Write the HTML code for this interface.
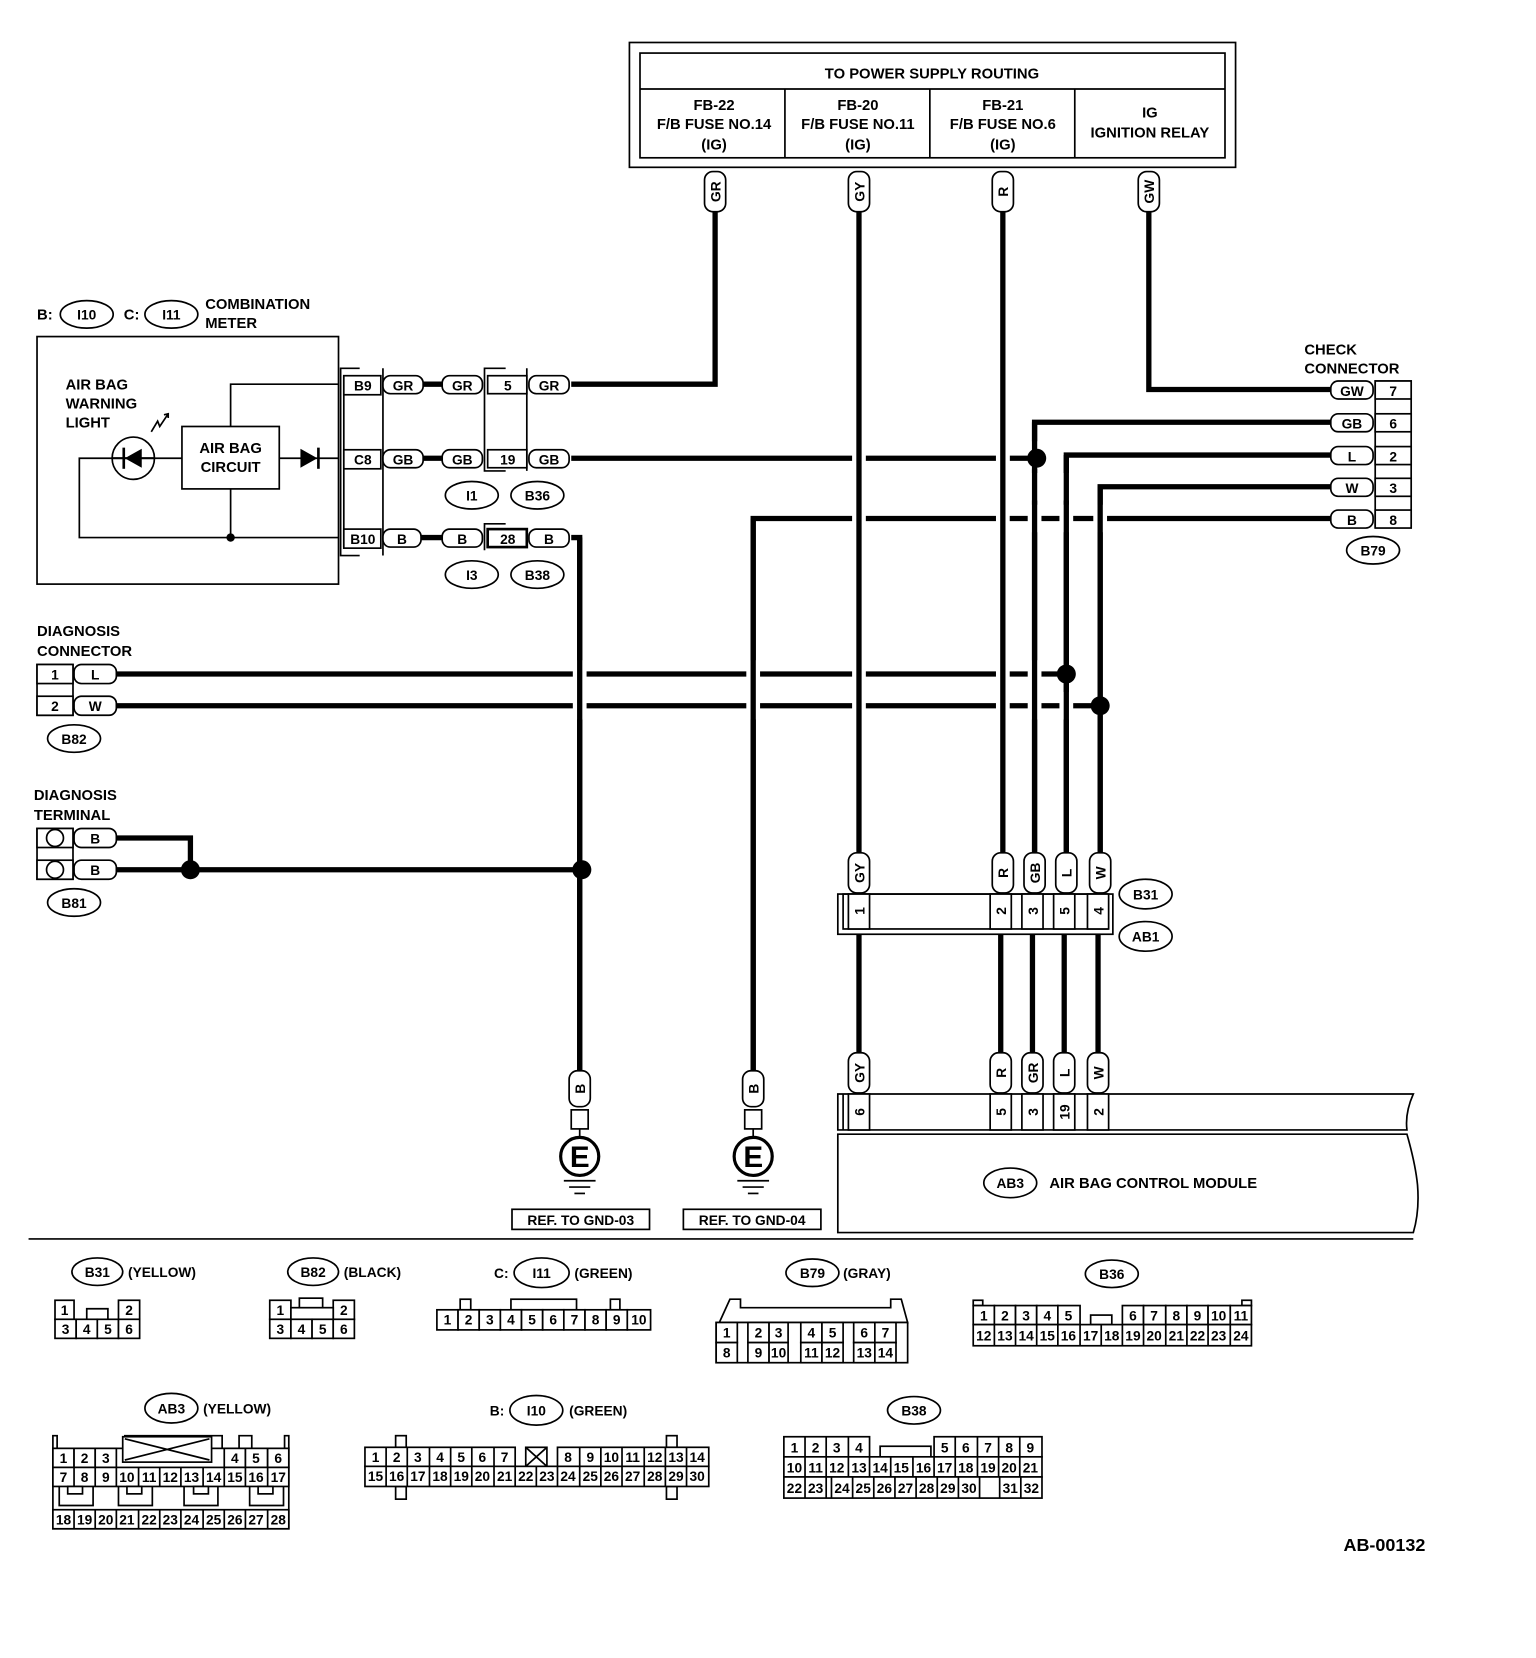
<!DOCTYPE html>
<html><head><meta charset="utf-8"><style>
html,body{margin:0;padding:0;background:#fff}
svg{display:block}
text{font-family:"Liberation Sans",sans-serif;font-weight:bold;fill:#000}
.t{font-size:14px}
.s{font-size:13px}
.c{font-size:13px;font-weight:normal}
.th{fill:none;stroke:#000;stroke-width:5}
.tn{fill:none;stroke:#000;stroke-width:1.6}
.bx{fill:#fff;stroke:#000;stroke-width:1.6}
.wh{fill:none;stroke:#fff;stroke-width:13}
</style></head><body>
<svg width="1536" height="1658" viewBox="0 0 1452 1567" xmlns="http://www.w3.org/2000/svg">
<!-- TOP BOX -->
<rect x="595" y="40" width="573" height="118" class="tn" stroke-width="2.5"/>
<rect x="605" y="50" width="553" height="99" class="tn" stroke-width="2.5"/>
<line x1="605" y1="84" x2="1158" y2="84" class="tn" stroke-width="2"/>
<line x1="742" y1="84" x2="742" y2="149" class="tn"/>
<line x1="879" y1="84" x2="879" y2="149" class="tn"/>
<line x1="1016" y1="84" x2="1016" y2="149" class="tn"/>
<text x="881" y="74" class="t" text-anchor="middle">TO POWER SUPPLY ROUTING</text>
<g class="t" text-anchor="middle">
<text x="675" y="104">FB-22</text><text x="675" y="122">F/B FUSE NO.14</text><text x="675" y="141">(IG)</text>
<text x="811" y="104">FB-20</text><text x="811" y="122">F/B FUSE NO.11</text><text x="811" y="141">(IG)</text>
<text x="948" y="104">FB-21</text><text x="948" y="122">F/B FUSE NO.6</text><text x="948" y="141">(IG)</text>
<text x="1087" y="111">IG</text><text x="1087" y="130">IGNITION RELAY</text>
</g>

<!-- HORIZONTAL WIRES -->
<polyline points="540,363 676,363 676,198" class="th"/>
<polyline points="1258,368 1086,368 1086,198" class="th"/>
<line x1="540" y1="433" x2="980" y2="433" class="th"/>
<polyline points="1258,399 978,399 978,808" class="th"/>
<polyline points="1258,430 1008,430 1008,808" class="th"/>
<polyline points="1258,460 1040,460 1040,808" class="th"/>
<polyline points="1258,490 712,490 712,1012" class="th"/>
<line x1="110" y1="637" x2="1008" y2="637" class="th"/>
<line x1="110" y1="667" x2="1040" y2="667" class="th"/>
<polyline points="540,508 548,508 548,1012" class="th"/>
<polyline points="110,792 180,792 180,822" class="th"/>
<line x1="110" y1="822" x2="548" y2="822" class="th"/>
<!-- crossings: white gaps under verticals -->
<g class="wh" stroke-width="12">
<line x1="812" y1="420" x2="812" y2="446"/><line x1="948" y1="420" x2="948" y2="446"/>
<line x1="812" y1="477" x2="812" y2="503"/><line x1="948" y1="477" x2="948" y2="503"/><line x1="978" y1="477" x2="978" y2="503"/><line x1="1008" y1="477" x2="1008" y2="503"/><line x1="1040" y1="477" x2="1040" y2="503"/>
<line x1="948" y1="386" x2="948" y2="412"/>
<line x1="948" y1="417" x2="948" y2="443"/>
<line x1="978" y1="417" x2="978" y2="443"/>
<line x1="948" y1="447" x2="948" y2="473"/><line x1="978" y1="447" x2="978" y2="473"/><line x1="1008" y1="447" x2="1008" y2="473"/>
<line x1="548" y1="624" x2="548" y2="680"/><line x1="712" y1="624" x2="712" y2="680"/><line x1="812" y1="624" x2="812" y2="680"/><line x1="948" y1="624" x2="948" y2="680"/><line x1="978" y1="624" x2="978" y2="680"/><line x1="1008" y1="654" x2="1008" y2="680"/>
<line x1="812" y1="356" x2="812" y2="376"/>
</g>
<!-- verticals -->
<line x1="812" y1="198" x2="812" y2="808" class="th"/>
<line x1="948" y1="198" x2="948" y2="808" class="th"/>
<line x1="978" y1="399" x2="978" y2="808" class="th"/>
<line x1="1008" y1="430" x2="1008" y2="808" class="th"/>
<line x1="1040" y1="460" x2="1040" y2="808" class="th"/>
<line x1="712" y1="490" x2="712" y2="1012" class="th"/>
<line x1="548" y1="508" x2="548" y2="1012" class="th"/>
<g fill="#000"><circle cx="980" cy="433" r="9"/><circle cx="1008" cy="637" r="9"/><circle cx="1040" cy="667" r="9"/><circle cx="180" cy="822" r="9"/><circle cx="550" cy="822" r="9"/></g>

<!-- top vertical pills -->
<g class="bx"><rect x="666" y="162" width="20" height="38" rx="8"/><rect x="802" y="162" width="20" height="38" rx="8"/><rect x="938" y="162" width="20" height="38" rx="8"/><rect x="1076" y="162" width="20" height="38" rx="8"/></g>
<g class="s" text-anchor="middle">
<text transform="translate(681,181) rotate(-90)">GR</text><text transform="translate(817,181) rotate(-90)">GY</text><text transform="translate(953,181) rotate(-90)">R</text><text transform="translate(1091,181) rotate(-90)">GW</text>
</g>

<!-- CHECK CONNECTOR -->
<text x="1233" y="335" class="t">CHECK</text><text x="1233" y="353" class="t">CONNECTOR</text>
<rect x="1300" y="360" width="34" height="138" class="tn"/>
<g class="bx">
<rect x="1258" y="360" width="40" height="17" rx="7"/><rect x="1258" y="391" width="40" height="17" rx="7"/><rect x="1258" y="422" width="40" height="17" rx="7"/><rect x="1258" y="452" width="40" height="17" rx="7"/><rect x="1258" y="482" width="40" height="17" rx="7"/>
<rect x="1300" y="360" width="34" height="17"/><rect x="1300" y="391" width="34" height="17"/><rect x="1300" y="422" width="34" height="17"/><rect x="1300" y="452" width="34" height="17"/><rect x="1300" y="482" width="34" height="17"/>
</g>
<g class="s" text-anchor="middle">
<text x="1278" y="374">GW</text><text x="1278" y="405">GB</text><text x="1278" y="436">L</text><text x="1278" y="466">W</text><text x="1278" y="496">B</text>
<text x="1317" y="374">7</text><text x="1317" y="405">6</text><text x="1317" y="436">2</text><text x="1317" y="466">3</text><text x="1317" y="496">8</text>
</g>
<ellipse cx="1298" cy="520" rx="25" ry="13" class="bx" stroke-width="2"/><text x="1298" y="525" class="s" text-anchor="middle">B79</text>

<!-- COMBINATION METER -->
<text x="35" y="302" class="t">B:</text>
<ellipse cx="82" cy="297" rx="25" ry="13" class="bx" stroke-width="2"/><text x="82" y="302" class="s" text-anchor="middle">I10</text>
<text x="117" y="302" class="t">C:</text>
<ellipse cx="162" cy="297" rx="25" ry="13" class="bx" stroke-width="2"/><text x="162" y="302" class="s" text-anchor="middle">I11</text>
<text x="194" y="292" class="t">COMBINATION</text><text x="194" y="310" class="t">METER</text>
<rect x="35" y="318" width="285" height="234" class="tn" stroke-width="2"/>
<text x="62" y="368" class="t">AIR BAG</text><text x="62" y="386" class="t">WARNING</text><text x="62" y="404" class="t">LIGHT</text>
<path d="M143,408 l6,-10 l2,5 l8,-12 M155,392 l4,-1 l0,4" class="tn" stroke-width="2"/>
<rect x="172" y="403" width="92" height="59" class="tn" stroke-width="2"/>
<text x="218" y="428" class="t" text-anchor="middle">AIR BAG</text><text x="218" y="446" class="t" text-anchor="middle">CIRCUIT</text>
<polyline points="218,403 218,363 320,363" class="tn" stroke-width="2"/>
<line x1="264" y1="433" x2="320" y2="433" class="tn" stroke-width="2"/>
<path d="M284,424 L300,433 L284,442 Z" fill="#000"/><line x1="301" y1="423" x2="301" y2="443" stroke="#000" stroke-width="2.5"/>
<polyline points="172,433 146,433" class="tn" stroke-width="2"/>
<polyline points="106,433 75,433 75,508 320,508" class="tn" stroke-width="2"/>
<line x1="218" y1="462" x2="218" y2="508" class="tn" stroke-width="2"/>
<circle cx="218" cy="508" r="4" fill="#000"/>
<circle cx="126" cy="433" r="20" class="bx" stroke-width="2"/>
<path d="M134,424 L118,433 L134,442 Z" fill="#000"/><line x1="117" y1="423" x2="117" y2="443" stroke="#000" stroke-width="2.5"/><line x1="106" y1="433" x2="146" y2="433" stroke="#000" stroke-width="2"/>
<!-- meter connectors -->
<polyline points="340,348 322,348 322,525 340,525" class="tn" stroke-width="2"/>
<line x1="362" y1="348" x2="362" y2="525" class="tn"/>
<line x1="325" y1="355" x2="325" y2="517" class="tn"/>
<g class="bx"><rect x="325" y="355" width="35" height="18"/><rect x="325" y="425" width="35" height="18"/><rect x="325" y="500" width="35" height="18"/></g>
<polyline points="478,348 458,348 458,445 478,445" class="tn" stroke-width="2"/>
<line x1="498" y1="348" x2="498" y2="445" class="tn"/>
<polyline points="478,495 458,495 458,520" class="tn" stroke-width="2"/>
<g class="th" stroke-width="6"><line x1="398" y1="363" x2="420" y2="363"/><line x1="398" y1="433" x2="420" y2="433"/><line x1="398" y1="508" x2="420" y2="508"/></g>
<g class="bx">
<rect x="362" y="355" width="38" height="17" rx="7"/><rect x="418" y="355" width="38" height="17" rx="7"/><rect x="461" y="355" width="37" height="17"/><rect x="500" y="355" width="38" height="17" rx="7"/>
<rect x="362" y="425" width="38" height="17" rx="7"/><rect x="418" y="425" width="38" height="17" rx="7"/><rect x="461" y="425" width="37" height="17"/><rect x="500" y="425" width="38" height="17" rx="7"/>
<rect x="362" y="500" width="36" height="17" rx="7"/><rect x="418" y="500" width="38" height="17" rx="7"/><rect x="461" y="500" width="37" height="17" stroke-width="2.5"/><rect x="500" y="500" width="38" height="17" rx="7"/>
</g>
<g class="s" text-anchor="middle">
<text x="343" y="369">B9</text><text x="381" y="369">GR</text><text x="437" y="369">GR</text><text x="480" y="369">5</text><text x="519" y="369">GR</text>
<text x="343" y="439">C8</text><text x="381" y="439">GB</text><text x="437" y="439">GB</text><text x="480" y="439">19</text><text x="519" y="439">GB</text>
<text x="343" y="514">B10</text><text x="380" y="514">B</text><text x="437" y="514">B</text><text x="480" y="514">28</text><text x="519" y="514">B</text>
</g>
<g class="bx" stroke-width="2"><ellipse cx="446" cy="468" rx="25" ry="13"/><ellipse cx="508" cy="468" rx="25" ry="13"/><ellipse cx="446" cy="543" rx="25" ry="13"/><ellipse cx="508" cy="543" rx="25" ry="13"/></g>
<g class="s" text-anchor="middle"><text x="446" y="473">I1</text><text x="508" y="473">B36</text><text x="446" y="548">I3</text><text x="508" y="548">B38</text></g>

<!-- DIAGNOSIS CONNECTOR -->
<text x="35" y="601" class="t">DIAGNOSIS</text><text x="35" y="620" class="t">CONNECTOR</text>
<rect x="35" y="628" width="34" height="48" class="tn"/>
<g class="bx"><rect x="35" y="628" width="34" height="18"/><rect x="35" y="658" width="34" height="18"/><rect x="70" y="628" width="40" height="18" rx="7"/><rect x="70" y="658" width="40" height="18" rx="7"/></g>
<g class="s" text-anchor="middle"><text x="52" y="642">1</text><text x="52" y="672">2</text><text x="90" y="642">L</text><text x="90" y="672">W</text></g>
<ellipse cx="70" cy="698" rx="25" ry="13" class="bx" stroke-width="2"/><text x="70" y="703" class="s" text-anchor="middle">B82</text>
<!-- DIAGNOSIS TERMINAL -->
<text x="32" y="756" class="t">DIAGNOSIS</text><text x="32" y="775" class="t">TERMINAL</text>
<rect x="35" y="783" width="34" height="48" class="tn"/>
<g class="bx"><rect x="35" y="783" width="34" height="18"/><rect x="35" y="813" width="34" height="18"/><rect x="70" y="783" width="40" height="18" rx="7"/><rect x="70" y="813" width="40" height="18" rx="7"/>
<circle cx="52" cy="792" r="8"/><circle cx="52" cy="822" r="8"/></g>
<g class="s" text-anchor="middle"><text x="90" y="797">B</text><text x="90" y="827">B</text></g>
<ellipse cx="70" cy="853" rx="25" ry="13" class="bx" stroke-width="2"/><text x="70" y="858" class="s" text-anchor="middle">B81</text>

<!-- GROUNDS -->
<g class="bx">
<rect x="538" y="1012" width="20" height="34" rx="8"/><rect x="540" y="1049" width="16" height="18"/><circle cx="548" cy="1093" r="18" stroke-width="3"/>
<rect x="702" y="1012" width="20" height="34" rx="8"/><rect x="704" y="1049" width="16" height="18"/><circle cx="712" cy="1093" r="18" stroke-width="3"/>
</g>
<line x1="548" y1="1067" x2="548" y2="1075" class="tn" stroke-width="3"/><line x1="712" y1="1067" x2="712" y2="1075" class="tn" stroke-width="3"/>
<text transform="translate(553,1029) rotate(-90)" class="s" text-anchor="middle">B</text>
<text transform="translate(717,1029) rotate(-90)" class="s" text-anchor="middle">B</text>
<text x="548" y="1103" font-size="28" text-anchor="middle">E</text>
<text x="712" y="1103" font-size="28" text-anchor="middle">E</text>
<g class="tn" stroke-width="2"><line x1="533" y1="1116" x2="563" y2="1116"/><line x1="538" y1="1122" x2="558" y2="1122"/><line x1="543" y1="1128" x2="553" y2="1128"/>
<line x1="697" y1="1116" x2="727" y2="1116"/><line x1="702" y1="1122" x2="722" y2="1122"/><line x1="707" y1="1128" x2="717" y2="1128"/></g>
<rect x="484" y="1143" width="130" height="19" class="tn" stroke-width="2"/><rect x="646" y="1143" width="130" height="19" class="tn" stroke-width="2"/>
<text x="549" y="1158" class="s" text-anchor="middle">REF. TO GND-03</text><text x="711" y="1158" class="s" text-anchor="middle">REF. TO GND-04</text>

<!-- B31/AB1 -->
<rect x="792" y="845" width="260" height="38" class="tn" stroke-width="2"/>
<rect x="797" y="845" width="250" height="33" class="tn"/>
<g class="bx">
<rect x="802" y="845" width="20" height="33"/><rect x="936" y="845" width="20" height="33"/><rect x="966" y="845" width="20" height="33"/><rect x="996" y="845" width="20" height="33"/><rect x="1028" y="845" width="20" height="33"/>
<rect x="802" y="806" width="20" height="38" rx="8"/><rect x="938" y="806" width="20" height="38" rx="8"/><rect x="968" y="806" width="20" height="38" rx="8"/><rect x="998" y="806" width="20" height="38" rx="8"/><rect x="1030" y="806" width="20" height="38" rx="8"/>
</g>
<g class="s" text-anchor="middle">
<text transform="translate(817,825) rotate(-90)">GY</text><text transform="translate(953,825) rotate(-90)">R</text><text transform="translate(983,825) rotate(-90)">GB</text><text transform="translate(1013,825) rotate(-90)">L</text><text transform="translate(1045,825) rotate(-90)">W</text>
<text transform="translate(817,861) rotate(-90)">1</text><text transform="translate(951,861) rotate(-90)">2</text><text transform="translate(981,861) rotate(-90)">3</text><text transform="translate(1011,861) rotate(-90)">5</text><text transform="translate(1043,861) rotate(-90)">4</text>
</g>
<g class="bx" stroke-width="2"><ellipse cx="1083" cy="845" rx="25" ry="14"/><ellipse cx="1083" cy="885" rx="25" ry="14"/></g>
<text x="1083" y="850" class="s" text-anchor="middle">B31</text><text x="1083" y="890" class="s" text-anchor="middle">AB1</text>
<g class="th"><line x1="812" y1="883" x2="812" y2="997"/><line x1="946" y1="883" x2="946" y2="997"/><line x1="976" y1="883" x2="976" y2="997"/><line x1="1006" y1="883" x2="1006" y2="997"/><line x1="1038" y1="883" x2="1038" y2="997"/></g>

<!-- AB3 MODULE -->
<path d="M792,1034 H1336 Q1328,1052 1330,1068 H792 Z" class="tn" stroke-width="2"/>
<path d="M792,1072 H1330 Q1338,1100 1340,1120 Q1342,1145 1336,1165 H792 Z" class="tn" stroke-width="2"/>
<line x1="797" y1="1034" x2="797" y2="1068" class="tn"/>
<g class="bx">
<rect x="802" y="1034" width="20" height="34"/><rect x="936" y="1034" width="20" height="34"/><rect x="966" y="1034" width="20" height="34"/><rect x="996" y="1034" width="20" height="34"/><rect x="1028" y="1034" width="20" height="34"/>
<rect x="802" y="995" width="20" height="38" rx="8"/><rect x="936" y="995" width="20" height="38" rx="8"/><rect x="966" y="995" width="20" height="38" rx="8"/><rect x="996" y="995" width="20" height="38" rx="8"/><rect x="1028" y="995" width="20" height="38" rx="8"/>
</g>
<g class="s" text-anchor="middle">
<text transform="translate(817,1014) rotate(-90)">GY</text><text transform="translate(951,1014) rotate(-90)">R</text><text transform="translate(981,1014) rotate(-90)">GR</text><text transform="translate(1011,1014) rotate(-90)">L</text><text transform="translate(1043,1014) rotate(-90)">W</text>
<text transform="translate(817,1051) rotate(-90)">6</text><text transform="translate(951,1051) rotate(-90)">5</text><text transform="translate(981,1051) rotate(-90)">3</text><text transform="translate(1011,1051) rotate(-90)">19</text><text transform="translate(1043,1051) rotate(-90)">2</text>
</g>
<ellipse cx="955" cy="1118" rx="25" ry="14" class="bx" stroke-width="2"/><text x="955" y="1123" class="s" text-anchor="middle">AB3</text>
<text x="992" y="1123" class="t">AIR BAG CONTROL MODULE</text>
<line x1="27" y1="1171" x2="1336" y2="1171" class="tn" stroke-width="2.5"/>

<!-- BOTTOM CONNECTOR VIEWS -->
<g class="bx" stroke-width="2">
<ellipse cx="92" cy="1202" rx="24" ry="13"/><ellipse cx="296" cy="1202" rx="24" ry="13"/><ellipse cx="512" cy="1203" rx="26" ry="14"/><ellipse cx="768" cy="1203" rx="25" ry="13"/><ellipse cx="1051" cy="1204" rx="25" ry="13"/>
<ellipse cx="162" cy="1331" rx="25" ry="14"/><ellipse cx="507" cy="1333" rx="25" ry="14"/><ellipse cx="864" cy="1333" rx="25" ry="13"/>
</g>
<g class="s">
<text x="92" y="1207" text-anchor="middle">B31</text><text x="121" y="1207">(YELLOW)</text>
<text x="296" y="1207" text-anchor="middle">B82</text><text x="325" y="1207">(BLACK)</text>
<text x="467" y="1208">C:</text><text x="512" y="1208" text-anchor="middle">I11</text><text x="543" y="1208">(GREEN)</text>
<text x="768" y="1208" text-anchor="middle">B79</text><text x="797" y="1208">(GRAY)</text>
<text x="1051" y="1209" text-anchor="middle">B36</text>
<text x="162" y="1336" text-anchor="middle">AB3</text><text x="192" y="1336">(YELLOW)</text>
<text x="463" y="1338">B:</text><text x="507" y="1338" text-anchor="middle">I10</text><text x="538" y="1338">(GREEN)</text>
<text x="864" y="1338" text-anchor="middle">B38</text>
</g>

<g class="bx" stroke-width="1.3">
<!-- B31 -->
<rect x="52" y="1229" width="18" height="18"/><rect x="112" y="1229" width="20" height="18"/>
<path d="M82,1247 V1237 H102 V1247" fill="none"/>
<rect x="52" y="1247" width="20" height="18"/><rect x="72" y="1247" width="20" height="18"/><rect x="92" y="1247" width="20" height="18"/><rect x="112" y="1247" width="20" height="18"/>
<!-- B82 -->
<rect x="255" y="1229" width="20" height="18"/><rect x="315" y="1229" width="20" height="18"/><rect x="275" y="1236" width="40" height="11"/><rect x="283" y="1227" width="22" height="9"/>
<rect x="255" y="1247" width="20" height="18"/><rect x="275" y="1247" width="20" height="18"/><rect x="295" y="1247" width="20" height="18"/><rect x="315" y="1247" width="20" height="18"/>
<!-- I11 -->
<rect x="435" y="1228" width="10" height="10"/><rect x="483" y="1228" width="62" height="10"/><rect x="577" y="1228" width="9" height="10"/>
<rect x="413" y="1238" width="20" height="19"/><rect x="433" y="1238" width="20" height="19"/><rect x="453" y="1238" width="20" height="19"/><rect x="473" y="1238" width="20" height="19"/><rect x="493" y="1238" width="20" height="19"/><rect x="513" y="1238" width="20" height="19"/><rect x="533" y="1238" width="20" height="19"/><rect x="553" y="1238" width="20" height="19"/><rect x="573" y="1238" width="20" height="19"/><rect x="593" y="1238" width="22" height="19"/>
<!-- B79 -->
<path d="M680,1250 L690,1228 H700 V1236 H842 V1228 H852 L858,1250 Z"/>
<rect x="677" y="1250" width="181" height="38"/>
<rect x="677" y="1250" width="20" height="19"/><rect x="707" y="1250" width="20" height="19"/><rect x="727" y="1250" width="18" height="19"/><rect x="757" y="1250" width="20" height="19"/><rect x="777" y="1250" width="20" height="19"/><rect x="807" y="1250" width="20" height="19"/><rect x="827" y="1250" width="20" height="19"/>
<rect x="677" y="1269" width="20" height="19"/><rect x="707" y="1269" width="20" height="19"/><rect x="727" y="1269" width="18" height="19"/><rect x="757" y="1269" width="20" height="19"/><rect x="777" y="1269" width="20" height="19"/><rect x="807" y="1269" width="20" height="19"/><rect x="827" y="1269" width="20" height="19"/>
<!-- B36 -->
<rect x="920" y="1229" width="9" height="5"/><rect x="1174" y="1229" width="9" height="5"/>
<rect x="920" y="1234" width="20" height="18"/><rect x="940" y="1234" width="20" height="18"/><rect x="960" y="1234" width="20" height="18"/><rect x="980" y="1234" width="20" height="18"/><rect x="1000" y="1234" width="21" height="18"/>
<rect x="1031" y="1243" width="20" height="9"/>
<rect x="1061" y="1234" width="20" height="18"/><rect x="1081" y="1234" width="21" height="18"/><rect x="1102" y="1234" width="20" height="18"/><rect x="1122" y="1234" width="20" height="18"/><rect x="1142" y="1234" width="21" height="18"/><rect x="1163" y="1234" width="20" height="18"/>
<rect x="920" y="1252" width="263" height="20"/>
</g>
<g class="tn" stroke-width="1.3">
<line x1="940" y1="1252" x2="940" y2="1272"/><line x1="960" y1="1252" x2="960" y2="1272"/><line x1="980" y1="1252" x2="980" y2="1272"/><line x1="1000" y1="1252" x2="1000" y2="1272"/><line x1="1021" y1="1252" x2="1021" y2="1272"/><line x1="1041" y1="1252" x2="1041" y2="1272"/><line x1="1061" y1="1252" x2="1061" y2="1272"/><line x1="1081" y1="1252" x2="1081" y2="1272"/><line x1="1102" y1="1252" x2="1102" y2="1272"/><line x1="1122" y1="1252" x2="1122" y2="1272"/><line x1="1142" y1="1252" x2="1142" y2="1272"/><line x1="1163" y1="1252" x2="1163" y2="1272"/>
</g>
<g class="c" text-anchor="middle">
<text x="61" y="1243">1</text><text x="122" y="1243">2</text><text x="62" y="1261">3</text><text x="82" y="1261">4</text><text x="102" y="1261">5</text><text x="122" y="1261">6</text>
<text x="265" y="1243">1</text><text x="325" y="1243">2</text><text x="265" y="1261">3</text><text x="285" y="1261">4</text><text x="305" y="1261">5</text><text x="325" y="1261">6</text>
<text x="423" y="1252">1</text><text x="443" y="1252">2</text><text x="463" y="1252">3</text><text x="483" y="1252">4</text><text x="503" y="1252">5</text><text x="523" y="1252">6</text><text x="543" y="1252">7</text><text x="563" y="1252">8</text><text x="583" y="1252">9</text><text x="604" y="1252">10</text>
<text x="687" y="1264">1</text><text x="717" y="1264">2</text><text x="736" y="1264">3</text><text x="767" y="1264">4</text><text x="787" y="1264">5</text><text x="817" y="1264">6</text><text x="837" y="1264">7</text>
<text x="687" y="1283">8</text><text x="717" y="1283">9</text><text x="736" y="1283">10</text><text x="767" y="1283">11</text><text x="787" y="1283">12</text><text x="817" y="1283">13</text><text x="837" y="1283">14</text>
<text x="930" y="1248">1</text><text x="950" y="1248">2</text><text x="970" y="1248">3</text><text x="990" y="1248">4</text><text x="1010" y="1248">5</text><text x="1071" y="1248">6</text><text x="1091" y="1248">7</text><text x="1112" y="1248">8</text><text x="1132" y="1248">9</text><text x="1152" y="1248">10</text><text x="1173" y="1248">11</text>
<text x="930" y="1267">12</text><text x="950" y="1267">13</text><text x="970" y="1267">14</text><text x="990" y="1267">15</text><text x="1010" y="1267">16</text><text x="1031" y="1267">17</text><text x="1051" y="1267">18</text><text x="1071" y="1267">19</text><text x="1091" y="1267">20</text><text x="1112" y="1267">21</text><text x="1132" y="1267">22</text><text x="1152" y="1267">23</text><text x="1173" y="1267">24</text>
</g>

<!-- AB3 view -->
<g class="bx" stroke-width="1.3">
<path d="M50,1369 V1357 H54 V1369 M118,1369 V1357 H210 V1369 M226,1369 V1357 H238 V1369 M269,1369 V1357 H273 V1369" fill="none"/>
<rect x="50" y="1369" width="223" height="76" fill="none"/>
<rect x="50" y="1369" width="20" height="18"/><rect x="70" y="1369" width="20" height="18"/><rect x="90" y="1369" width="20" height="18"/>
<rect x="116" y="1358" width="84" height="24"/>
<rect x="212" y="1369" width="20" height="18"/><rect x="232" y="1369" width="21" height="18"/><rect x="253" y="1369" width="20" height="18"/>
<rect x="50" y="1387" width="223" height="18"/>
<rect x="50" y="1427" width="223" height="18"/>
<path d="M56,1405 V1423 H88 V1405 M112,1405 V1423 H144 V1405 M174,1405 V1423 H206 V1405 M236,1405 V1423 H268 V1405" fill="none"/>
<rect x="64" y="1405" width="14" height="7"/><rect x="120" y="1405" width="14" height="7"/><rect x="183" y="1405" width="14" height="7"/><rect x="244" y="1405" width="14" height="7"/>
</g>
<path d="M118,1360 L198,1380 M118,1380 L198,1360" class="tn" stroke-width="1.3"/>
<g class="tn" stroke-width="1.3">
<line x1="70" y1="1387" x2="70" y2="1405"/><line x1="90" y1="1387" x2="90" y2="1405"/><line x1="110" y1="1387" x2="110" y2="1405"/><line x1="131" y1="1387" x2="131" y2="1405"/><line x1="151" y1="1387" x2="151" y2="1405"/><line x1="171" y1="1387" x2="171" y2="1405"/><line x1="192" y1="1387" x2="192" y2="1405"/><line x1="212" y1="1387" x2="212" y2="1405"/><line x1="232" y1="1387" x2="232" y2="1405"/><line x1="253" y1="1387" x2="253" y2="1405"/>
<line x1="70" y1="1427" x2="70" y2="1445"/><line x1="90" y1="1427" x2="90" y2="1445"/><line x1="110" y1="1427" x2="110" y2="1445"/><line x1="131" y1="1427" x2="131" y2="1445"/><line x1="151" y1="1427" x2="151" y2="1445"/><line x1="171" y1="1427" x2="171" y2="1445"/><line x1="192" y1="1427" x2="192" y2="1445"/><line x1="212" y1="1427" x2="212" y2="1445"/><line x1="232" y1="1427" x2="232" y2="1445"/><line x1="253" y1="1427" x2="253" y2="1445"/>
</g>
<g class="c" text-anchor="middle">
<text x="60" y="1383">1</text><text x="80" y="1383">2</text><text x="100" y="1383">3</text><text x="222" y="1383">4</text><text x="242" y="1383">5</text><text x="263" y="1383">6</text>
<text x="60" y="1401">7</text><text x="80" y="1401">8</text><text x="100" y="1401">9</text><text x="120" y="1401">10</text><text x="141" y="1401">11</text><text x="161" y="1401">12</text><text x="181" y="1401">13</text><text x="202" y="1401">14</text><text x="222" y="1401">15</text><text x="242" y="1401">16</text><text x="263" y="1401">17</text>
<text x="60" y="1441">18</text><text x="80" y="1441">19</text><text x="100" y="1441">20</text><text x="120" y="1441">21</text><text x="141" y="1441">22</text><text x="161" y="1441">23</text><text x="181" y="1441">24</text><text x="202" y="1441">25</text><text x="222" y="1441">26</text><text x="242" y="1441">27</text><text x="263" y="1441">28</text>
</g>

<!-- I10 view -->
<g class="bx" stroke-width="1.3">
<rect x="374" y="1357" width="10" height="11"/><rect x="374" y="1405" width="10" height="12"/><rect x="630" y="1357" width="10" height="11"/><rect x="630" y="1405" width="10" height="12"/>
<rect x="345" y="1368" width="142" height="18"/>
<rect x="497" y="1368" width="20" height="18"/>
<rect x="527" y="1368" width="143" height="18"/>
<rect x="345" y="1386" width="325" height="19"/>
</g>
<path d="M497,1368 L517,1386 M517,1368 L497,1386" class="tn" stroke-width="1.2"/>
<g class="tn" stroke-width="1.3">
<line x1="365" y1="1368" x2="365" y2="1405"/><line x1="385" y1="1368" x2="385" y2="1405"/><line x1="406" y1="1368" x2="406" y2="1405"/><line x1="426" y1="1368" x2="426" y2="1405"/><line x1="446" y1="1368" x2="446" y2="1405"/><line x1="467" y1="1368" x2="467" y2="1405"/><line x1="487" y1="1386" x2="487" y2="1405"/><line x1="507" y1="1386" x2="507" y2="1405"/><line x1="527" y1="1386" x2="527" y2="1405"/><line x1="548" y1="1368" x2="548" y2="1405"/><line x1="568" y1="1368" x2="568" y2="1405"/><line x1="588" y1="1368" x2="588" y2="1405"/><line x1="609" y1="1368" x2="609" y2="1405"/><line x1="629" y1="1368" x2="629" y2="1405"/><line x1="649" y1="1368" x2="649" y2="1405"/>
</g>
<g class="c" text-anchor="middle">
<text x="355" y="1382">1</text><text x="375" y="1382">2</text><text x="395" y="1382">3</text><text x="416" y="1382">4</text><text x="436" y="1382">5</text><text x="456" y="1382">6</text><text x="477" y="1382">7</text><text x="537" y="1382">8</text><text x="558" y="1382">9</text><text x="578" y="1382">10</text><text x="598" y="1382">11</text><text x="619" y="1382">12</text><text x="639" y="1382">13</text><text x="659" y="1382">14</text>
<text x="355" y="1400">15</text><text x="375" y="1400">16</text><text x="395" y="1400">17</text><text x="416" y="1400">18</text><text x="436" y="1400">19</text><text x="456" y="1400">20</text><text x="477" y="1400">21</text><text x="497" y="1400">22</text><text x="517" y="1400">23</text><text x="537" y="1400">24</text><text x="558" y="1400">25</text><text x="578" y="1400">26</text><text x="598" y="1400">27</text><text x="619" y="1400">28</text><text x="639" y="1400">29</text><text x="659" y="1400">30</text>
</g>

<!-- B38 view -->
<g class="bx" stroke-width="1.3">
<rect x="741" y="1358" width="81" height="19"/><rect x="832" y="1367" width="48" height="10"/><rect x="883" y="1358" width="102" height="19"/>
<rect x="741" y="1377" width="244" height="19"/><rect x="741" y="1396" width="244" height="20"/>
</g>
<g class="tn" stroke-width="1.3">
<line x1="761" y1="1358" x2="761" y2="1377"/><line x1="781" y1="1358" x2="781" y2="1377"/><line x1="802" y1="1358" x2="802" y2="1377"/><line x1="903" y1="1358" x2="903" y2="1377"/><line x1="924" y1="1358" x2="924" y2="1377"/><line x1="944" y1="1358" x2="944" y2="1377"/><line x1="964" y1="1358" x2="964" y2="1377"/>
<line x1="761" y1="1377" x2="761" y2="1396"/><line x1="781" y1="1377" x2="781" y2="1396"/><line x1="802" y1="1377" x2="802" y2="1396"/><line x1="822" y1="1377" x2="822" y2="1396"/><line x1="842" y1="1377" x2="842" y2="1396"/><line x1="863" y1="1377" x2="863" y2="1396"/><line x1="883" y1="1377" x2="883" y2="1396"/><line x1="903" y1="1377" x2="903" y2="1396"/><line x1="924" y1="1377" x2="924" y2="1396"/><line x1="944" y1="1377" x2="944" y2="1396"/><line x1="964" y1="1377" x2="964" y2="1396"/>
<line x1="761" y1="1396" x2="761" y2="1416"/><line x1="781" y1="1396" x2="781" y2="1416"/><line x1="786" y1="1396" x2="786" y2="1416"/><line x1="806" y1="1396" x2="806" y2="1416"/><line x1="826" y1="1396" x2="826" y2="1416"/><line x1="846" y1="1396" x2="846" y2="1416"/><line x1="866" y1="1396" x2="866" y2="1416"/><line x1="886" y1="1396" x2="886" y2="1416"/><line x1="906" y1="1396" x2="906" y2="1416"/><line x1="926" y1="1396" x2="926" y2="1416"/><line x1="945" y1="1396" x2="945" y2="1416"/><line x1="965" y1="1396" x2="965" y2="1416"/>
</g>
<g class="c" text-anchor="middle">
<text x="751" y="1373">1</text><text x="771" y="1373">2</text><text x="791" y="1373">3</text><text x="812" y="1373">4</text><text x="893" y="1373">5</text><text x="913" y="1373">6</text><text x="934" y="1373">7</text><text x="954" y="1373">8</text><text x="974" y="1373">9</text>
<text x="751" y="1392">10</text><text x="771" y="1392">11</text><text x="791" y="1392">12</text><text x="812" y="1392">13</text><text x="832" y="1392">14</text><text x="852" y="1392">15</text><text x="873" y="1392">16</text><text x="893" y="1392">17</text><text x="913" y="1392">18</text><text x="934" y="1392">19</text><text x="954" y="1392">20</text><text x="974" y="1392">21</text>
<text x="751" y="1411">22</text><text x="771" y="1411">23</text><text x="796" y="1411">24</text><text x="816" y="1411">25</text><text x="836" y="1411">26</text><text x="856" y="1411">27</text><text x="876" y="1411">28</text><text x="896" y="1411">29</text><text x="916" y="1411">30</text><text x="955" y="1411">31</text><text x="975" y="1411">32</text>
</g>

<text x="1270" y="1466" font-size="17" font-weight="normal">AB-00132</text>
</svg>
</body></html>
